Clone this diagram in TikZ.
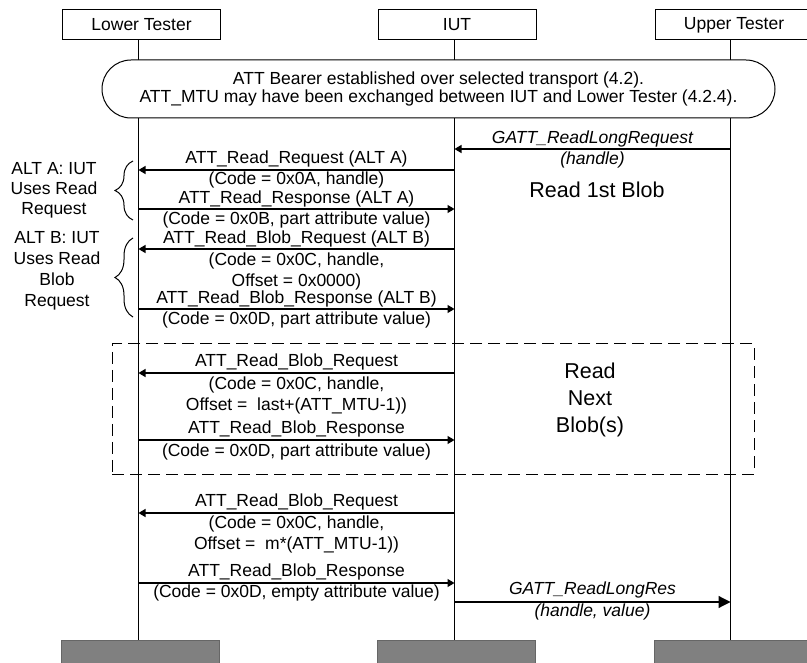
\documentclass[tikz,border=0pt]{standalone}
\usepackage{fontspec}
\setmainfont{Liberation Sans}
\usetikzlibrary{arrows.meta,decorations.pathreplacing}
\begin{document}
\begin{tikzpicture}[x=1pt,y=-1pt,
  hdr/.style={draw,line width=1pt,minimum width=158pt,minimum height=30pt,inner sep=0pt,font=\fontsize{17.5}{20}\selectfont},
  foot/.style={draw=black!60,fill=black!50,line width=0.8pt,minimum width=158pt,minimum height=30pt,inner sep=0pt},
  life/.style={line width=1.5pt},
  msg/.style={line width=1.2pt,-{Triangle[length=7pt,width=8pt]}},
  bigmsg/.style={line width=1.2pt,-{Triangle[length=12pt,width=12pt]}},
  txt/.style={inner sep=0pt,align=center,font=\fontsize{17.5}{21}\selectfont},
  itxt/.style={inner sep=0pt,align=center,font=\fontsize{17.5}{21}\selectfont\itshape},
  bigtxt/.style={inner sep=0pt,align=center,font=\fontsize{21.5}{27}\selectfont},
  brc/.style={line width=1pt,decorate,decoration={brace,amplitude=18pt}}]
\useasboundingbox (0,0) rectangle (807,663);
\clip (0,0) rectangle (807,663);
% headers
\node[hdr] (lt) at (141.5,25) {Lower Tester};
\node[hdr] (iut) at (457,25) {IUT};
\node[hdr] (ut) at (734,25) {Upper Tester};
% footers
\node[foot] (ltf) at (140,655) {};
\node[foot] (iutf) at (456,655) {};
\node[foot] (utf) at (733,655) {};
% lifelines
\coordinate (L0) at (138.5,40); \coordinate (L1) at (138.5,640);
\coordinate (I0) at (454.5,40); \coordinate (I1) at (454.5,640);
\coordinate (U0) at (730.5,40); \coordinate (U1) at (730.5,640);
\draw[life] (L0) -- (L1);
\draw[life] (I0) -- (I1);
\draw[life] (U0) -- (U1);
% setup box
\node[draw,line width=1pt,fill=white,rounded corners=29pt,minimum width=673pt,minimum height=58pt,inner sep=0pt,align=center,font=\fontsize{17.5}{18.5}\selectfont] (setup) at (438.5,89)
 {ATT Bearer established over selected transport (4.2).\\ATT\_MTU may have been exchanged between IUT and Lower Tester (4.2.4).};
% GATT_ReadLongRequest
\coordinate (a1s) at (730.5,149); \coordinate (a1e) at (454.5,149);
\draw[msg] (a1s) -- (a1e);
\node[itxt] (t1a) at (592.5,139) {GATT\_ReadLongRequest};
\node[itxt] (t1b) at (592.5,160) {(handle)};
\node[bigtxt] (r1) at (597,190) {Read 1st Blob};
% ALT A
\coordinate (a2s) at (454.5,170); \coordinate (a2e) at (138.5,170);
\draw[msg] (a2s) -- (a2e);
\node[txt] (t2a) at (296.5,159) {ATT\_Read\_Request (ALT A)};
\node[txt] (t2b) at (296.5,180) {(Code = 0x0A, handle)};
\coordinate (a3s) at (138.5,209); \coordinate (a3e) at (454.5,209);
\draw[msg] (a3s) -- (a3e);
\node[txt] (t3a) at (296.5,199) {ATT\_Read\_Response (ALT A)};
\node[txt] (t3b) at (296.5,220) {(Code = 0x0B, part attribute value)};
% ALT B
\coordinate (a4s) at (454.5,249); \coordinate (a4e) at (138.5,249);
\draw[msg] (a4s) -- (a4e);
\node[txt] (t4a) at (296.5,239) {ATT\_Read\_Blob\_Request (ALT B)};
\node[txt] (t4b) at (296.5,271) {(Code = 0x0C, handle,\\Offset = 0x0000)};
\coordinate (a5s) at (138.5,309); \coordinate (a5e) at (454.5,309);
\draw[msg] (a5s) -- (a5e);
\node[txt] (t5a) at (296.5,299) {ATT\_Read\_Blob\_Response (ALT B)};
\node[txt] (t5b) at (296.5,320) {(Code = 0x0D, part attribute value)};
% braces
\coordinate (bA1) at (133,220); \coordinate (bA2) at (133,161);
\draw[brc] (bA1) -- (bA2);
\node[txt,font=\fontsize{17.5}{20}\selectfont] (altA) at (54,190) {ALT A: IUT\\Uses Read\\Request};
\coordinate (bB1) at (133,317); \coordinate (bB2) at (133,238);
\draw[brc] (bB1) -- (bB2);
\node[txt] (altB) at (57,271) {ALT B: IUT\\Uses Read\\Blob\\Request};
% dashed loop box
\node[draw,dash pattern=on 12pt off 6pt,line width=1pt,minimum width=642pt,minimum height=130pt,inner sep=0pt] (loop) at (433,409) {};
\coordinate (a6s) at (454.5,373); \coordinate (a6e) at (138.5,373);
\draw[msg] (a6s) -- (a6e);
\node[txt] (t6a) at (296.5,362) {ATT\_Read\_Blob\_Request};
\node[txt] (t6b) at (296.5,395) {(Code = 0x0C, handle,\\Offset = \ last+(ATT\_MTU-1))};
\coordinate (a7s) at (138.5,440); \coordinate (a7e) at (454.5,440);
\draw[msg] (a7s) -- (a7e);
\node[txt] (t7a) at (296.5,429) {ATT\_Read\_Blob\_Response};
\node[txt] (t7b) at (296.5,452) {(Code = 0x0D, part attribute value)};
\node[bigtxt] (rn) at (590,400) {Read\\Next\\Blob(s)};
% final
\coordinate (a8s) at (454.5,513); \coordinate (a8e) at (138.5,513);
\draw[msg] (a8s) -- (a8e);
\node[txt] (t8a) at (296.5,502) {ATT\_Read\_Blob\_Request};
\node[txt] (t8b) at (296.5,534) {(Code = 0x0C, handle,\\Offset = \ m*(ATT\_MTU-1))};
\coordinate (a9s) at (138.5,583); \coordinate (a9e) at (454.5,583);
\draw[msg] (a9s) -- (a9e);
\node[txt] (t9a) at (296.5,572) {ATT\_Read\_Blob\_Response};
\node[txt] (t9b) at (296.5,593) {(Code = 0x0D, empty attribute value)};
\coordinate (a10s) at (454.5,602); \coordinate (a10e) at (730.5,602);
\draw[bigmsg] (a10s) -- (a10e);
\node[itxt] (t10a) at (592.5,590) {GATT\_ReadLongRes};
\node[itxt] (t10b) at (592.5,612) {(handle, value)};
\end{tikzpicture}
\end{document}
